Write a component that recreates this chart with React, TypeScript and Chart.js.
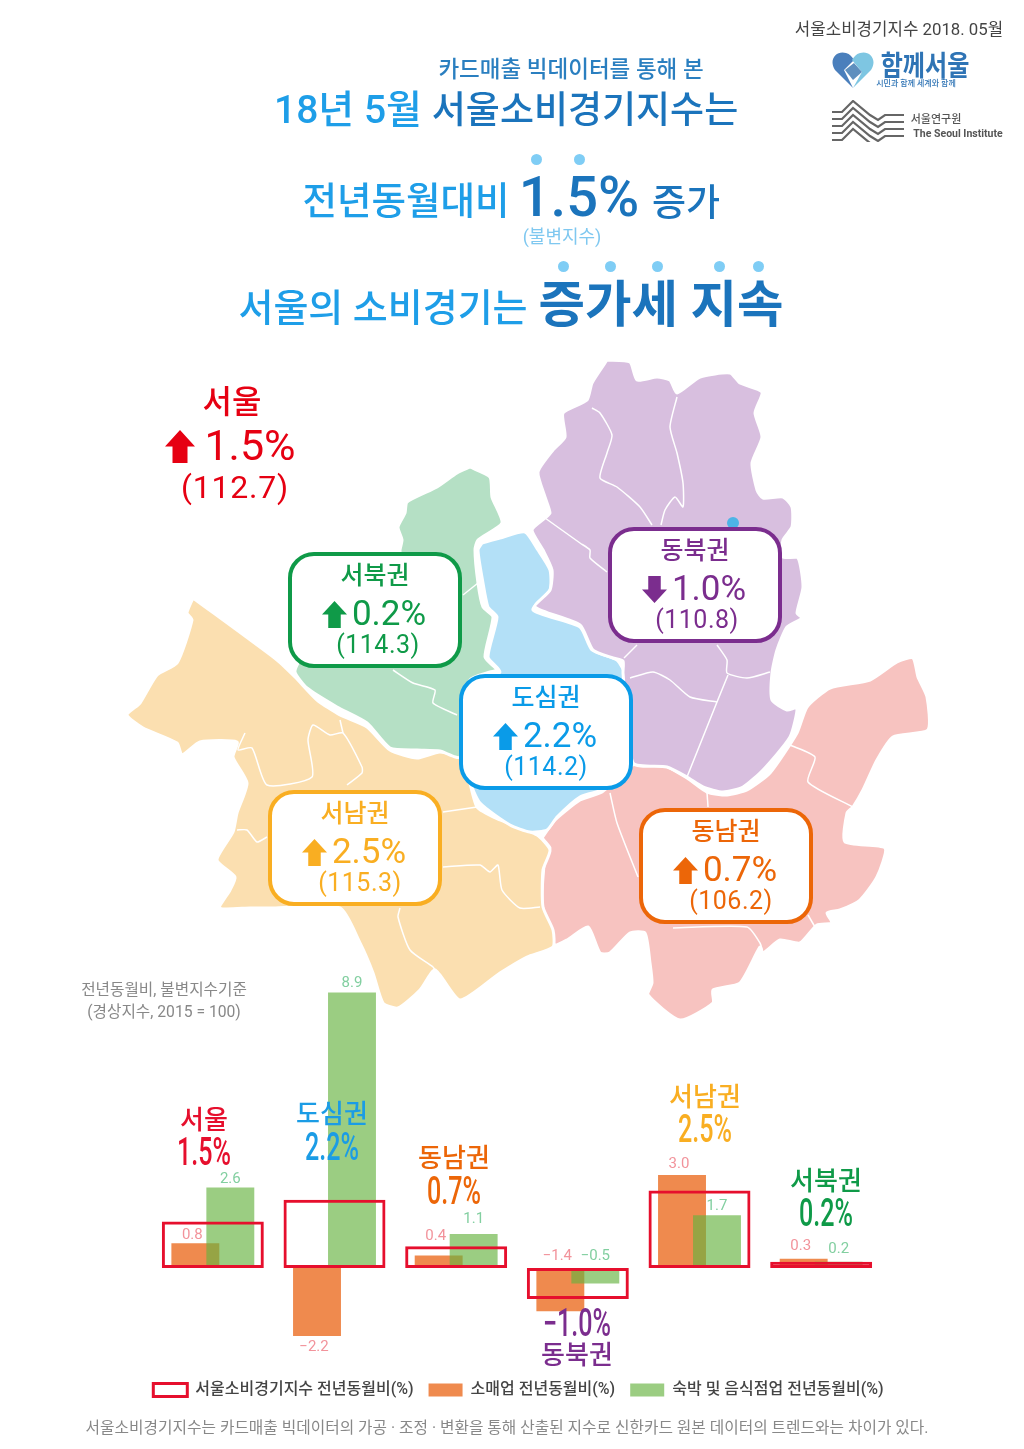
import { useEffect, useRef } from 'react'
import { Chart, registerables } from 'chart.js'

Chart.register(...registerables)

const FONT = 'Roboto, "Noto Sans CJK KR", sans-serif'

const categories = ['서울', '도심권', '동남권', '동북권', '서남권', '서북권']
const indexValues = [1.5, 2.2, 0.7, -1.0, 2.5, 0.2]
const retailValues = [0.8, -2.2, 0.4, -1.4, 3.0, 0.3]
const lodgingValues = [2.6, 8.9, 1.1, -0.5, 1.7, 0.2]
const levelValues = [112.7, 114.2, 106.2, 110.8, 115.3, 114.3]

const legendIndex = '서울소비경기지수 전년동월비(%)'
const legendRetail = '소매업 전년동월비(%)'
const legendLodging = '숙박 및 음식점업 전년동월비(%)'

// only the -2.2 label sits under its bar, the other negatives stay above the zero line
const labelBelow = [false, true, false, false, false, false]
// the picture lifts some labels clear of the red boxes
const retailLabelGap = [8, 11, 19, 12, 11, 12]
const lodgingLabelGap = [8, 9, 15, 12, 9, 12]

type Pt = [number, number]

// map shapes
const northeastShape: Pt[] = [
  [607, 360], [630, 362], [637, 380], [657, 377], [670, 380], [677, 393], [700, 377], [730, 373], [740, 383], [762, 392],
  [755, 413], [762, 437], [752, 463], [757, 490], [763, 498], [783, 497], [792, 507], [792, 527], [783, 540], [783, 557],
  [798, 558], [803, 587], [797, 613], [802, 618], [787, 627], [777, 650], [772, 673], [772, 700], [787, 710], [797, 708],
  [790, 737], [763, 770], [743, 787], [723, 792], [703, 787], [687, 777], [667, 767], [633, 763], [623, 673], [623, 661],
  [613, 658], [593, 650], [580, 625], [535, 607], [550, 590], [552, 570], [543, 550], [532, 530], [545, 518], [550, 513],
  [545, 497], [538, 472], [553, 450], [565, 437], [563, 413], [587, 400], [592, 383], [607, 360],
]
const centerShape: Pt[] = [
  [482, 543], [500, 538], [525, 532], [538, 550], [550, 570], [550, 590], [533, 610], [580, 627], [592, 650], [617, 660],
  [625, 675], [620, 780], [603, 790], [580, 797], [557, 817], [547, 830], [530, 832], [510, 825], [480, 803], [470, 780],
  [470, 700], [500, 672], [488, 657], [497, 617], [488, 607], [483, 583], [478, 550], [482, 543],
]
const northwestShape: Pt[] = [
  [470, 467], [490, 477], [492, 497], [502, 523], [478, 540], [475, 550], [478, 583], [483, 607], [493, 617], [485, 657],
  [497, 670], [490, 672], [470, 680], [460, 757], [440, 751], [417, 750], [390, 748], [367, 723], [337, 707], [307, 688],
  [295, 672], [300, 660], [400, 560], [400, 550], [402, 540], [398, 527], [405, 513], [407, 502], [437, 487], [457, 473],
  [470, 467],
]
const southwestShape: Pt[] = [
  [193, 598], [277, 660], [295, 677], [317, 700], [340, 715], [367, 727], [390, 750], [417, 758], [440, 752], [463, 760],
  [477, 807], [500, 820], [537, 835], [550, 850], [543, 870], [543, 907], [553, 930], [553, 947], [527, 957], [500, 973],
  [460, 1000], [435, 970], [420, 990], [398, 1008], [383, 1003], [373, 973], [360, 943], [340, 908], [273, 908], [250, 908],
  [220, 908], [230, 890], [235, 877], [217, 860], [233, 832], [237, 813], [247, 783], [233, 757], [237, 742], [200, 742],
  [182, 755], [177, 743], [143, 728], [127, 715], [140, 703], [157, 675], [177, 663], [192, 620], [187, 613], [193, 598],
]
const southeastShape: Pt[] = [
  [542, 838], [555, 820], [580, 800], [602, 792], [633, 765], [663, 765], [687, 778], [707, 792], [727, 795], [747, 790],
  [770, 773], [797, 733], [807, 707], [830, 688], [870, 680], [897, 662], [913, 658], [918, 677], [927, 697], [928, 730],
  [893, 737], [877, 760], [863, 790], [853, 807], [847, 813], [845, 842], [885, 848], [877, 877], [860, 900], [840, 910],
  [827, 913], [832, 923], [817, 925], [800, 943], [780, 940], [763, 953], [760, 947], [740, 983], [713, 990], [713, 1003],
  [680, 1020], [648, 995], [652, 983], [650, 963], [645, 933], [630, 933], [610, 953], [600, 953], [588, 927], [567, 940],
  [555, 945], [550, 933], [542, 903], [545, 857], [550, 848], [542, 838],
]
const districtLines: Pt[][] = [
  [[592, 408], [600, 413], [612, 435], [607, 453], [600, 478], [617, 487], [640, 507], [652, 525]],
  [[677, 397], [670, 427], [677, 453], [683, 483], [683, 507], [675, 497], [665, 510], [661, 525]],
  [[545, 518], [580, 543], [590, 550], [590, 558], [607, 572]],
  [[637, 645], [624, 658]],
  [[717, 645], [727, 660], [727, 673], [747, 678], [770, 672]],
  [[728, 675], [717, 702], [687, 777]],
  [[630, 678], [653, 672], [670, 680], [690, 697], [717, 702]],
  [[463, 595], [478, 583]],
  [[393, 670], [413, 683], [435, 690], [433, 703], [457, 715]],
  [[245, 733], [238, 750], [252, 748], [267, 785], [312, 777], [308, 740], [313, 725], [330, 735], [343, 733], [362, 767], [362, 773], [347, 785]],
  [[340, 720], [343, 733]],
  [[237, 830], [247, 830], [257, 842], [267, 837]],
  [[443, 812], [477, 807]],
  [[443, 867], [480, 865], [490, 872], [498, 865], [502, 890], [520, 908], [540, 907]],
  [[400, 908], [398, 917], [410, 950], [433, 967], [435, 970]],
  [[610, 793], [617, 823], [638, 877]],
  [[707, 792], [708, 807]],
  [[790, 745], [815, 757], [808, 782], [853, 807]],
  [[673, 928], [747, 927], [760, 943], [763, 953]],
  [[808, 915], [815, 927]],
]

const toXY = (pts: Pt[]) => pts.map(([x, y]) => ({ x, y }))

function SeoulMap() {
  const ref = useRef<HTMLCanvasElement>(null)
  useEffect(() => {
    if (!ref.current) return
    const shapes: [Pt[], string][] = [
      [northeastShape, '#D8BFDF'],
      [centerShape, '#B3E0F7'],
      [northwestShape, '#B5E0C5'],
      [southwestShape, '#FBDFB0'],
      [southeastShape, '#F7C3C0'],
    ]
    const chart = new Chart(ref.current, {
      type: 'scatter',
      data: {
        datasets: [
          ...districtLines.map(l => ({
            data: toXY(l), showLine: true, borderColor: '#ffffff', borderWidth: 1.5, pointRadius: 0, fill: false, tension: 0.2,
          })),
          ...shapes.map(([s, c]) => ({
            data: toXY(s), showLine: true, borderColor: '#ffffff', borderWidth: 3, backgroundColor: c, pointRadius: 0, fill: 'shape', tension: 0.2,
          })),
        ],
      },
      options: {
        animation: false,
        responsive: false,
        layout: { padding: 0 },
        plugins: { legend: { display: false }, tooltip: { enabled: false } },
        scales: {
          x: { type: 'linear', min: 0, max: 1024, display: false },
          y: { type: 'linear', min: 0, max: 1449, reverse: true, display: false },
        },
      },
    } as any)
    return () => chart.destroy()
  }, [])
  return <canvas ref={ref} width={1024} height={1449} style={{ position: 'absolute', left: 0, top: 0 }} />
}

// green has to sit over orange but orange must stay the left bar of each group
const lodgingOnTop = {
  id: 'lodgingOnTop',
  beforeDatasetDraw(_chart: any, args: any) {
    if (args.index === 2) return false
  },
  afterDatasetDraw(chart: any, args: any) {
    if (args.index === 1) chart.getDatasetMeta(2).controller.draw()
  },
}

const valueLabels = {
  id: 'valueLabels',
  afterDatasetsDraw(chart: any) {
    const ctx = chart.ctx
    ctx.save()
    ctx.font = `15px ${FONT}`
    ctx.textAlign = 'center'
    ctx.textBaseline = 'middle'
    ;[1, 2].forEach(di => {
      const values = chart.data.datasets[di].data
      const gaps = di === 1 ? retailLabelGap : lodgingLabelGap
      ctx.fillStyle = di === 1 ? '#F2939B' : '#82CFA0'
      chart.getDatasetMeta(di).data.forEach((el: any, i: number) => {
        const v = values[i]
        const text = (v < 0 ? '−' : '') + Math.abs(v).toFixed(1)
        const y = v >= 0 ? el.y - gaps[i] : labelBelow[i] ? el.y + gaps[i] : el.base - gaps[i]
        ctx.fillText(text, el.x - (di === 1 ? 3 : 0), y)
      })
    })
    ctx.restore()
  },
}

// spacer axes keep the bars inside the panel while the legend gets the whole width
const spacerAxis = (position: string, width: number) => ({
  position,
  min: -3.2,
  max: 9.5,
  grid: { display: false },
  border: { display: false },
  ticks: { display: false },
  afterFit(scale: any) {
    scale.width = width
  },
})

function BarPanel() {
  const ref = useRef<HTMLCanvasElement>(null)
  useEffect(() => {
    if (!ref.current) return
    const chart = new Chart(ref.current, {
      type: 'bar',
      data: {
        labels: categories,
        datasets: [
          {
            label: legendIndex,
            data: indexValues,
            grouped: false,
            backgroundColor: 'rgba(255,255,255,0)',
            borderColor: '#E60F2D',
            borderWidth: 3,
            borderSkipped: false,
            barPercentage: 0.838,
            categoryPercentage: 1,
          },
          {
            label: legendRetail,
            data: retailValues,
            backgroundColor: '#EF8A4E',
            barPercentage: 1.37,
            categoryPercentage: 0.575,
          },
          {
            label: legendLodging,
            data: lodgingValues,
            backgroundColor: 'rgba(101,178,63,0.65)',
            barPercentage: 1.37,
            categoryPercentage: 0.575,
          },
        ],
      },
      options: {
        animation: false,
        responsive: false,
        layout: { padding: { left: 13, right: 0, top: 13.85, bottom: 0 } },
        plugins: {
          tooltip: { enabled: false },
          legend: {
            position: 'bottom',
            labels: {
              boxWidth: 34,
              boxHeight: 13,
              padding: 15,
              color: '#444444',
              font: { family: FONT, size: 16, weight: '500' },
            },
          },
        },
        scales: {
          x: { display: false },
          y: spacerAxis('left', 139),
          yRight: spacerAxis('right', 142),
        },
      },
      plugins: [lodgingOnTop, valueLabels],
    } as any)
    return () => chart.destroy()
  }, [])
  return <canvas ref={ref} width={1024} height={448} style={{ position: 'absolute', left: 0, top: 960 }} />
}

function Label({ x, y, size, color, weight = 500, sx = 1, spacing = 0, children }: any) {
  return (
    <div
      style={{
        position: 'absolute', left: x, top: y, fontSize: size, color, fontWeight: weight, lineHeight: 1, letterSpacing: spacing,
        whiteSpace: 'nowrap', fontFamily: FONT, transform: `translate(-50%,-50%) scaleX(${sx})`,
      }}
    >
      {children}
    </div>
  )
}

function Arrow({ x, y, w, h, color, down = false }: any) {
  return (
    <svg width={w} height={h} viewBox="0 0 24 26" preserveAspectRatio="none"
      style={{ position: 'absolute', left: x - w / 2, top: y - h / 2, transform: down ? 'scaleY(-1)' : undefined }}>
      <polygon points="12,0 24,13 18,13 18,26 6,26 6,13 0,13" fill={color} />
    </svg>
  )
}

function Dot({ x, y, r = 5.5, color = '#7FCDF5' }: any) {
  return <div style={{ position: 'absolute', left: x - r, top: y - r, width: r * 2, height: r * 2, borderRadius: '50%', background: color }} />
}

function Callout({ i, left, top, color, idxDx, down = false }: any) {
  return (
    <>
      <div style={{
        position: 'absolute', left, top, width: 174, height: 116, boxSizing: 'border-box',
        border: `4px solid ${color}`, borderRadius: 26, background: '#ffffff',
      }} />
      <Label x={left + 87} y={top + 23} size={25} color={color}>{categories[i]}</Label>
      <Arrow x={left + 46} y={top + 62} w={25} h={27} color={color} down={down} />
      <Label x={left + 101} y={top + 61} size={35} color={color} weight={400}>{Math.abs(indexValues[i]).toFixed(1)}%</Label>
      <Label x={left + idxDx} y={top + 92} size={25} color={color} weight={400} spacing={0.5}>({levelValues[i].toFixed(1)})</Label>
    </>
  )
}

function BarHeading({ i, x, nameY, pctY, color }: any) {
  const v = indexValues[i]
  return (
    <>
      <Label x={x} y={nameY} size={26} color={color}>{categories[i]}</Label>
      <Label x={x} y={pctY} size={38} color={color} sx={0.66}>{(v < 0 ? '−' : '') + Math.abs(v).toFixed(1)}%</Label>
    </>
  )
}

function Logos() {
  const stripes = [0, 7, 14, 21, 28]
  return (
    <>
      <svg width={42} height={38} viewBox="0 0 42 38" style={{ position: 'absolute', left: 832, top: 51 }}>
        <path d="M21 37 L3 19 C-4 8 5 -1 14 2 C18 3 20 6 22 9 L12 19 Z" fill="#4A7FBC" />
        <path d="M21 37 L39 19 C46 8 37 -1 28 2 C24 3 22 6 20 9 L30 21 Z" fill="#7EC6E2" />
        <path d="M13 19 L22 12 L30 21 L21 29 Z" fill="#5E8FBE" />
      </svg>
      <Label x={925} y={67} size={28} color="#2F74B5" weight={700} sx={0.86}>함께서울</Label>
      <Label x={916} y={84} size={8} color="#2F74B5">시민과 함께 세계와 함께</Label>
      <svg width={72} height={42} viewBox="0 0 72 42" style={{ position: 'absolute', left: 832, top: 100 }}>
        {stripes.map(d => (
          <polyline key={d} fill="none" stroke="#666666" strokeWidth={2.2}
            points={`0,${12 + d} 10,${12 + d} 21,${1 + d} 38,${15 + d} 46,${20 + d} 53,${15 + d} 72,${15 + d}`} />
        ))}
      </svg>
      <Label x={936} y={119} size={11} color="#555555">서울연구원</Label>
      <Label x={958} y={134} size={10.5} color="#555555" weight={700}>The Seoul Institute</Label>
    </>
  )
}

export default function App() {
  const light = '#1E9EE8'
  const dark = '#1B74BC'
  return (
    <div style={{ position: 'absolute', left: 0, top: 0, width: 1024, height: 1449, background: '#ffffff', overflow: 'hidden' }}>
      <SeoulMap />
      <BarPanel />

      <Label x={899} y={29} size={16.8} color="#444444" weight={400}>서울소비경기지수 2018. 05월</Label>
      <Logos />

      <Label x={571} y={69} size={22.5} color="#2A7FC0">카드매출 빅데이터를 통해 본</Label>
      <Label x={348} y={110} size={39} color={light}>18년 5월</Label>
      <Label x={585} y={110} size={37} color={dark}>서울소비경기지수는</Label>
      <Label x={406} y={202} size={37.5} color={light}>전년동월대비</Label>
      <Label x={579} y={197} size={56} color={dark}>1.5%</Label>
      <Label x={686} y={203} size={37} color={dark}>증가</Label>
      <Label x={562} y={237} size={18} color="#7FC8F0" weight={400}>(불변지수)</Label>
      <Label x={383} y={308} size={38} color={light}>서울의 소비경기는</Label>
      <Label x={661} y={305} size={50.5} color={dark} weight={700}>증가세 지속</Label>
      {[[536, 159], [579, 159], [563, 266], [610, 266], [657, 266], [719, 266], [758, 266]].map(([x, y]) => (
        <Dot key={`${x}${y}`} x={x} y={y} />
      ))}

      <Label x={232} y={402} size={32} color="#E60012">{categories[0]}</Label>
      <Arrow x={180} y={446} w={30} h={33} color="#E60012" />
      <Label x={250} y={445} size={43} color="#E60012" weight={400}>{indexValues[0].toFixed(1)}%</Label>
      <Label x={235} y={487} size={32} color="#E60012" weight={400} spacing={0.8}>({levelValues[0].toFixed(1)})</Label>

      <Dot x={733} y={523} r={6} color="#4DB4E6" />
      <Callout i={5} left={288} top={552} color="#0F9A48" idxDx={90} />
      <Callout i={3} left={608} top={527} color="#7B2D8E" idxDx={89} down />
      <Callout i={1} left={459} top={674} color="#0A9BE8" idxDx={87} />
      <Callout i={4} left={268} top={790} color="#F9AE22" idxDx={92} />
      <Callout i={2} left={639} top={808} color="#EC6608" idxDx={92} />

      <Label x={164} y={990} size={15.7} color="#888888" weight={400}>전년동월비, 불변지수기준</Label>
      <Label x={164} y={1012} size={15.7} color="#888888" weight={400}>(경상지수, 2015 = 100)</Label>

      <BarHeading i={0} x={204} nameY={1120} pctY={1152} color="#E60F2D" />
      <BarHeading i={1} x={332} nameY={1114} pctY={1147} color="#1B9CE5" />
      <BarHeading i={2} x={454} nameY={1158} pctY={1191} color="#EC6608" />
      <BarHeading i={3} x={577} nameY={1355} pctY={1323} color="#7B2D8E" />
      <BarHeading i={4} x={705} nameY={1097} pctY={1129} color="#F9AE22" />
      <BarHeading i={5} x={826} nameY={1181} pctY={1213} color="#0F9A48" />

      <Label x={507} y={1428} size={15.75} color="#888888" weight={400}>
        서울소비경기지수는 카드매출 빅데이터의 가공 · 조정 · 변환을 통해 산출된 지수로 신한카드 원본 데이터의 트렌드와는 차이가 있다.
      </Label>
    </div>
  )
}
